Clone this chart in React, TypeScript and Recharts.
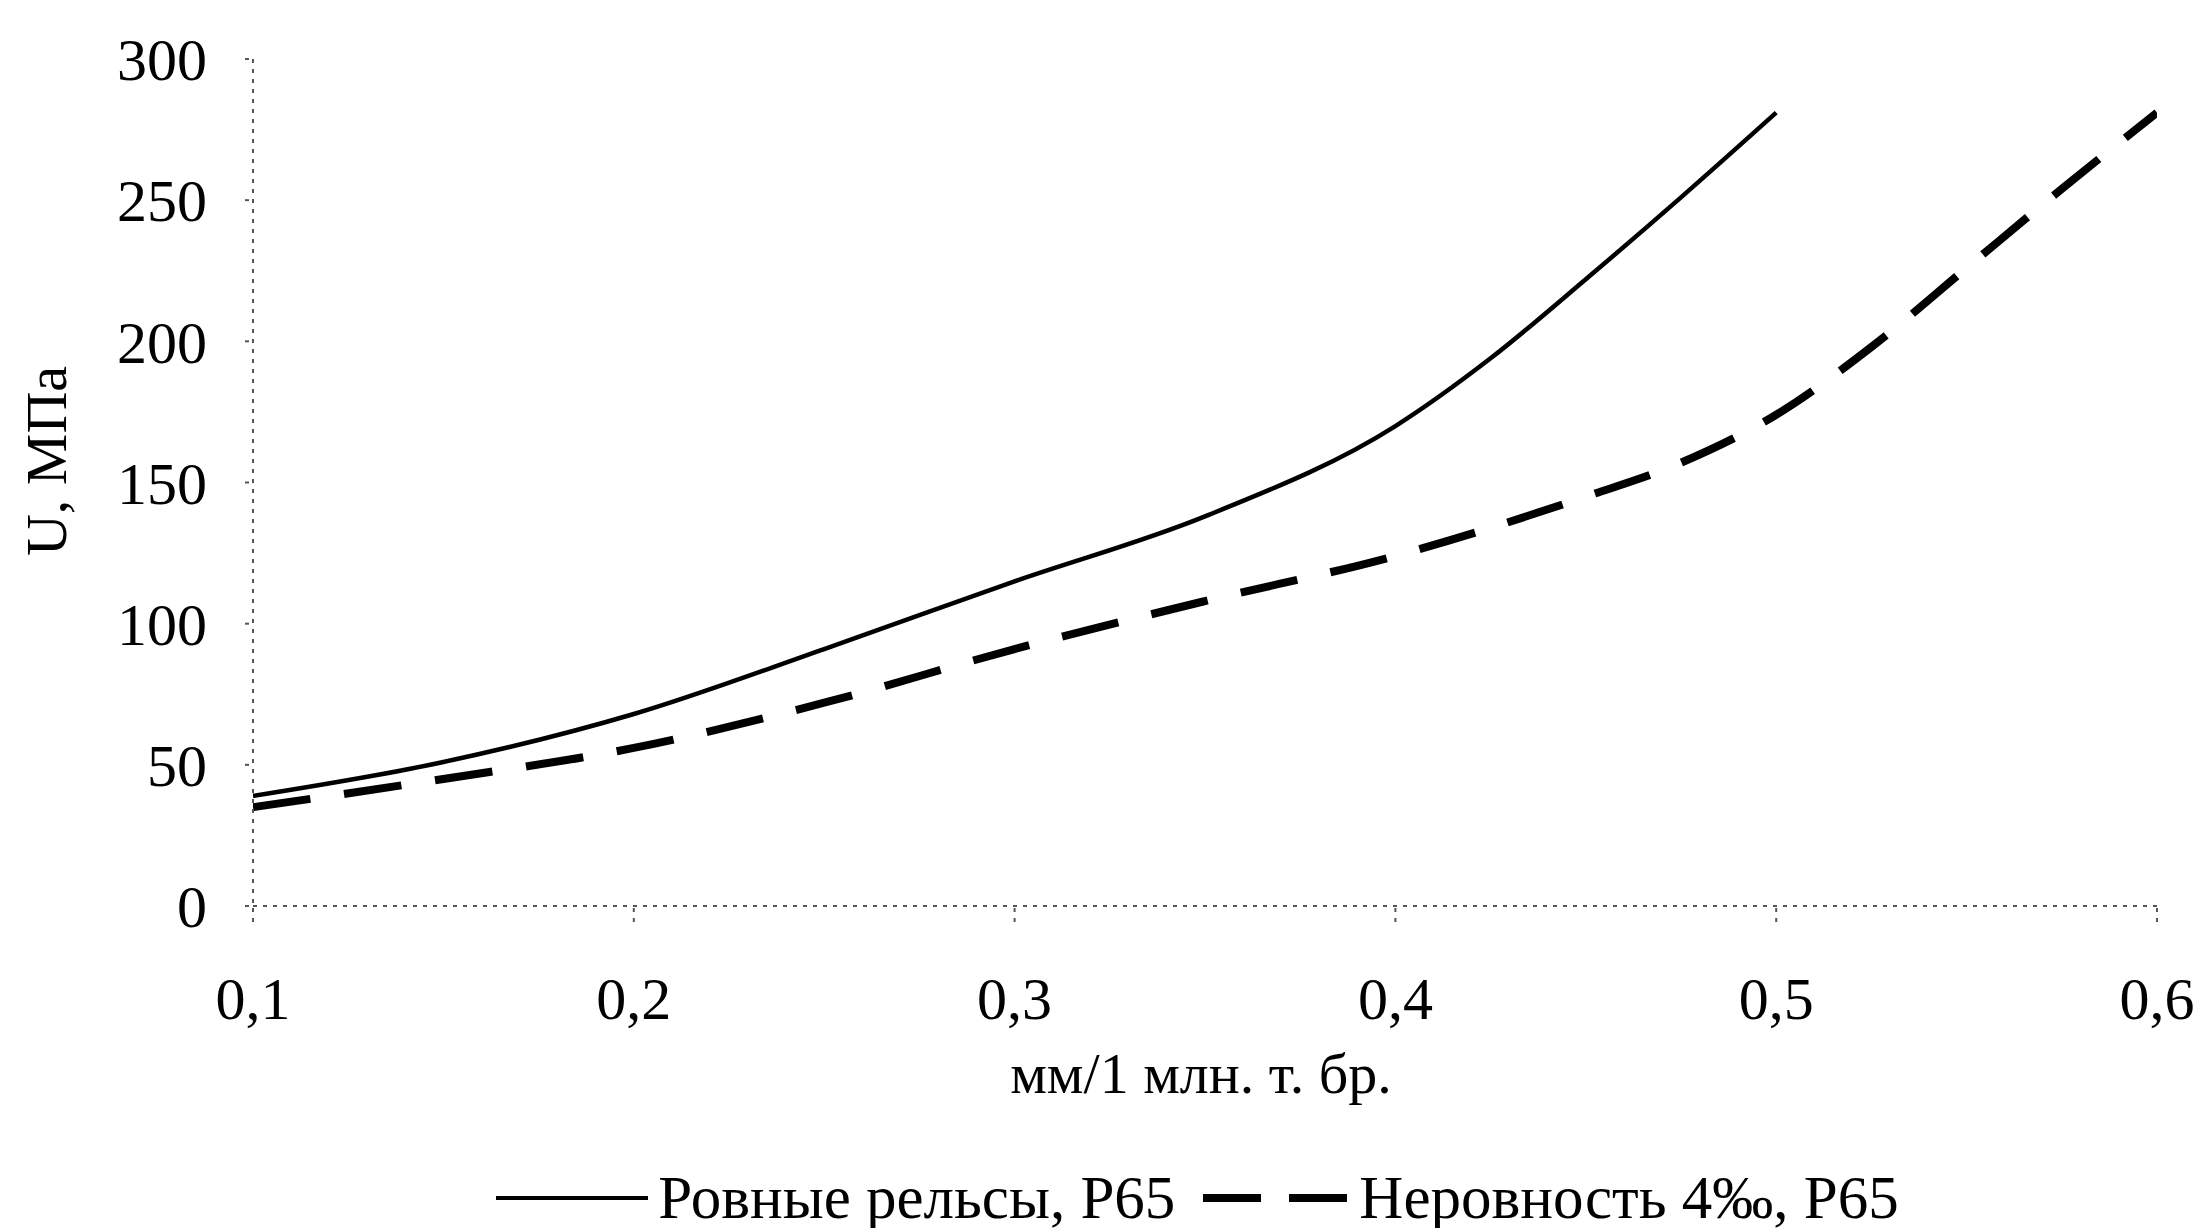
import React from "react";
import { Legend, Line, LineChart, XAxis, YAxis } from "recharts";

const xTicks = [0.1, 0.2, 0.3, 0.4, 0.5, 0.6];
const yTicks = [0, 50, 100, 150, 200, 250, 300];

// Ровные рельсы, Р65
const flatX = [0.1, 0.15, 0.2, 0.25, 0.3, 0.35, 0.4, 0.425, 0.45, 0.475, 0.5];
const flatU = [39, 51, 68, 91, 115, 138, 170, 194, 222, 251, 281];

// Неровность 4‰, Р65
const roughX = [0.1, 0.15, 0.2, 0.25, 0.3, 0.35, 0.4, 0.45, 0.475, 0.5, 0.525, 0.55, 0.575, 0.6];
const roughU = [35, 45, 56, 72, 91, 108, 124, 145, 157, 174, 198, 226, 254, 281];

const flatData = flatX.map((x, i) => ({ x, u: flatU[i] }));
const roughData = roughX.map((x, i) => ({ x, u: roughU[i] }));

const FONT = "'Liberation Serif', 'Times New Roman', serif";
const axisStroke = "#555";

const comma = (v: number) => String(v).replace(".", ",");

function LegendBox() {
  return (
    <div
      style={{
        display: "flex",
        justifyContent: "center",
        alignItems: "center",
        fontFamily: FONT,
        fontSize: 61,
        lineHeight: "60px",
        color: "#000",
        whiteSpace: "nowrap",
      }}
    >
      <svg width={152} height={20} style={{ marginRight: 10 }}>
        <line x1={0} y1={10} x2={152} y2={10} stroke="#000" strokeWidth={4} />
      </svg>
      <span>Ровные рельсы, Р65</span>
      <svg width={144} height={20} style={{ marginLeft: 28, marginRight: 12 }}>
        <line x1={0} y1={10} x2={144} y2={10} stroke="#000" strokeWidth={8} strokeDasharray="58 28" />
      </svg>
      <span>Неровность 4‰, Р65</span>
    </div>
  );
}

export default function App() {
  return (
    <div style={{ position: "absolute", left: 0, top: 0, width: 2203, height: 1228, background: "#fff" }}>
      <LineChart width={2203} height={1228} margin={{ top: 59, right: 46, left: 0, bottom: 0 }}>
        <XAxis
          dataKey="x"
          type="number"
          domain={[0.1, 0.6]}
          ticks={xTicks}
          tickFormatter={comma}
          allowDataOverflow
          height={262}
          stroke={axisStroke}
          strokeWidth={2}
          strokeDasharray="4 6"
          tickSize={16}
          tickMargin={54}
          tick={{ fontFamily: FONT, fontSize: 60, fill: "#000" }}
          label={{
            content: () => (
              <text x={1201} y={1093} textAnchor="middle" fontFamily={FONT} fontSize={58} fill="#000">
                мм/1 млн. т. бр.
              </text>
            ),
          }}
        />
        <YAxis
          type="number"
          domain={[0, 300]}
          ticks={yTicks}
          width={253}
          stroke={axisStroke}
          strokeWidth={2}
          strokeDasharray="4 6"
          tickSize={8}
          tickMargin={38}
          tick={{ fontFamily: FONT, fontSize: 60, fill: "#000" }}
          label={{
            content: () => (
              <text
                x={66}
                y={461}
                textAnchor="middle"
                transform="rotate(-90, 66, 461)"
                fontFamily={FONT}
                fontSize={58}
                fill="#000"
              >
                U, МПа
              </text>
            ),
          }}
        />
        <Legend
          verticalAlign="bottom"
          height={60}
          wrapperStyle={{ left: 0, width: 2203, paddingLeft: 192, boxSizing: "border-box" }}
          content={() => <LegendBox />}
        />
        <Line
          data={flatData}
          dataKey="u"
          type="monotone"
          stroke="#000"
          strokeWidth={4.5}
          dot={false}
          isAnimationActive={false}
          name="Ровные рельсы, Р65"
        />
        <Line
          data={roughData}
          dataKey="u"
          type="monotone"
          stroke="#000"
          strokeWidth={8}
          strokeDasharray="58 34"
          dot={false}
          isAnimationActive={false}
          name="Неровность 4‰, Р65"
        />
      </LineChart>
    </div>
  );
}
